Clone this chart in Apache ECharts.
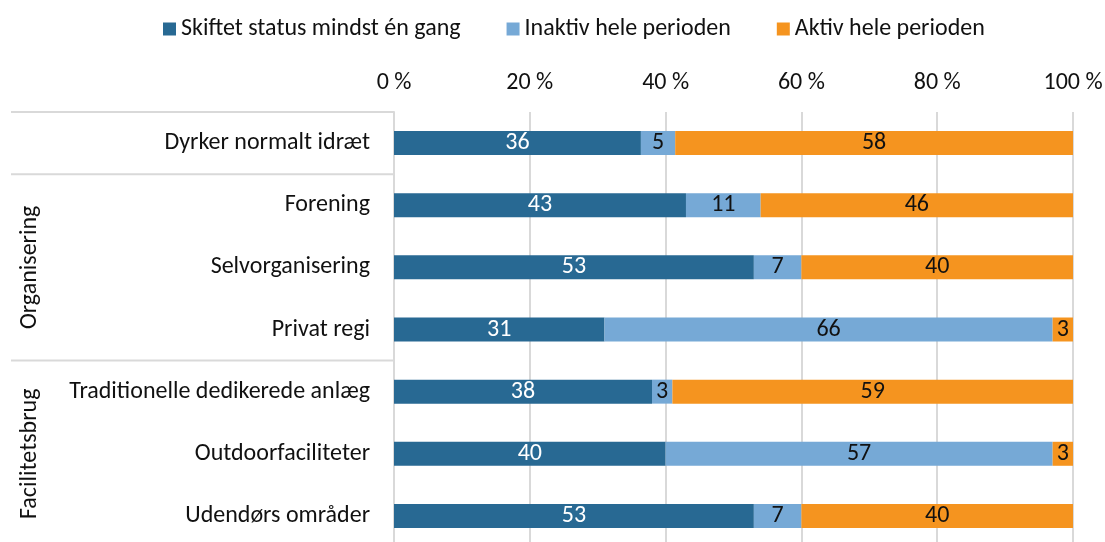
<!DOCTYPE html>
<html>
<head>
<meta charset="utf-8">
<script src="https://cdn.jsdelivr.net/npm/echarts@6/dist/echarts.min.js"></script>
<style>
  html, body { margin: 0; padding: 0; background: #fff; }
  #chart { width: 1105px; height: 542px; }
</style>
</head>
<body>
<div id="chart"></div>
<script>
const categories = [
  'Dyrker normalt idræt',
  'Forening',
  'Selvorganisering',
  'Privat regi',
  'Traditionelle dedikerede anlæg',
  'Outdoorfaciliteter',
  'Udendørs områder'
]
const seriesNames = ['Skiftet status mindst én gang', 'Inaktiv hele perioden', 'Aktiv hele perioden']
const skiftet = [36, 43, 53, 31, 38, 40, 53]
const inaktiv = [5, 11, 7, 66, 3, 57, 7]
const aktiv = [58, 46, 40, 3, 59, 3, 40]
const xTicks = [0, 20, 40, 60, 80, 100]
// groups: label, first index, last index
const groups = [
  { name: 'Organisering', from: 1, to: 3 },
  { name: 'Facilitetsbrug', from: 4, to: 6 }
]

const colors = ['#286993', '#76A9D6', '#F5941F']
const labelColors = ['#fff', '#111', '#111']
const FONT = 'Carlito, Calibri, "Liberation Sans Narrow", "Noto Sans", sans-serif'
const FS = 24

const raw = [skiftet, inaktiv, aktiv]
const totals = categories.map((c, i) => skiftet[i] + inaktiv[i] + aktiv[i])

const chart = echarts.init(document.getElementById('chart'))

const series = raw.map((arr, s) => ({
  name: seriesNames[s],
  type: 'bar',
  stack: 'total',
  barWidth: 24,
  itemStyle: { color: colors[s] },
  label: {
    show: true,
    position: 'inside',
    color: labelColors[s],
    fontFamily: FONT,
    fontSize: FS,
    formatter: p => raw[s][p.dataIndex]
  },
  data: arr.map((v, i) => v / totals[i] * 100)
}))

chart.setOption({
  animation: false,
  textStyle: { fontFamily: FONT },
  legend: {
    top: 12,
    left: 158,
    itemWidth: 13,
    itemHeight: 13,
    itemGap: 46,
    icon: 'rect',
    textStyle: { fontSize: FS, color: '#111', fontFamily: FONT },
    data: seriesNames
  },
  grid: { left: 394, right: 32, top: 112, height: 435, outerBoundsMode: 'none' },
  xAxis: {
    type: 'value',
    position: 'top',
    min: 0,
    max: 100,
    interval: 20,
    axisLine: { show: false },
    axisTick: { show: false },
    axisLabel: {
      fontSize: FS,
      color: '#111',
      margin: 17,
      fontFamily: FONT,
      formatter: v => xTicks.includes(v) ? v + ' %' : ''
    },
    splitLine: { lineStyle: { color: '#d9d9d9', width: 2 } }
  },
  yAxis: {
    type: 'category',
    inverse: true,
    data: categories,
    axisLine: { show: true, lineStyle: { color: '#d9d9d9', width: 2 } },
    axisTick: { show: false },
    axisLabel: { fontSize: FS, color: '#111', margin: 24, fontFamily: FONT }
  },
  series: series
})

// group separators and group labels
const px = i => chart.convertToPixel({ yAxisIndex: 0 }, categories[i])
const gridLeft = 394
const lineStyle = { stroke: '#d9d9d9', lineWidth: 2 }
const graphics = []
const bandTop = i => i === 0 ? 112 : (px(i - 1) + px(i)) / 2
graphics.push({ type: 'line', shape: { x1: 11, y1: 112, x2: gridLeft, y2: 112 }, style: lineStyle })
groups.forEach(g => {
  graphics.push({ type: 'line', shape: { x1: 11, y1: bandTop(g.from), x2: gridLeft, y2: bandTop(g.from) }, style: lineStyle })
  const cy = (px(g.from) + px(g.to)) / 2
  graphics.push({
    type: 'text',
    x: 30,
    y: cy,
    rotation: Math.PI / 2,
    style: {
      text: g.name,
      fontSize: FS,
      fontFamily: FONT,
      fill: '#111',
      align: 'center',
      verticalAlign: 'middle'
    }
  })
})
chart.setOption({ graphic: graphics })
</script>
</body>
</html>
